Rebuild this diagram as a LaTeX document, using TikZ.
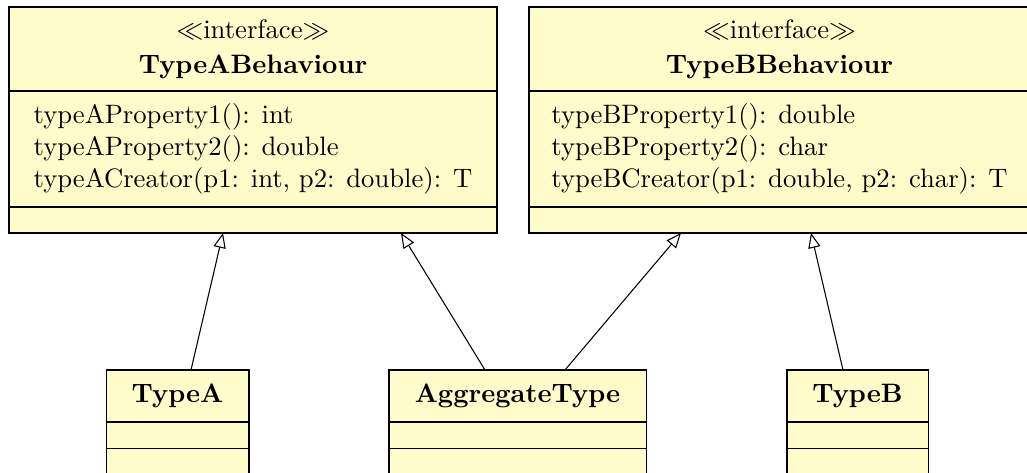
\documentclass[tikz,border=0pt]{standalone}
\usepackage{amsmath, amssymb}
\usepackage{xcolor}
\usetikzlibrary{positioning,arrows.meta}

\tikzset{
  part/.style={draw,fill=yellow!20,outer sep=0pt,inner sep=0pt},
  members/.style={part,align=left},
  realize/.style={-{Triangle[open,length=5.6pt,width=4.6pt]}}
}

\begin{document}
\begin{tikzpicture}[x=0.375pt,y=-0.375pt]
\path[use as bounding box,clip] (0,0) rectangle (1027,473);
\node[part,anchor=north,minimum width=183pt,minimum height=31.5pt,align=center] (tab) at (253,7) {$\ll$interface$\gg$\\[1pt]\textbf{TypeABehaviour}};
\node[members,below=0pt of tab,minimum width=183pt,minimum height=43.5pt] (tabattr) {typeAProperty1(): int\\ typeAProperty2(): double\\ typeACreator(p1: int, p2: double): T};
\node[part,below=0pt of tabattr,minimum width=183pt,minimum height=9.75pt] (tabops) {};
\node[part,anchor=north,minimum width=187.9pt,minimum height=31.5pt,align=center] (tbb) at (779.5,7) {$\ll$interface$\gg$\\[1pt]\textbf{TypeBBehaviour}};
\node[members,below=0pt of tbb,minimum width=187.9pt,minimum height=43.5pt] (tbbattr) {typeBProperty1(): double\\ typeBProperty2(): char\\ typeBCreator(p1: double, p2: char): T};
\node[part,below=0pt of tbbattr,minimum width=187.9pt,minimum height=9.75pt] (tbbops) {};
\node[part,anchor=north,minimum width=53.6pt,minimum height=19.5pt,font=\bfseries] (ta) at (177.5,370) {TypeA};
\node[part,below=0pt of ta,minimum width=53.6pt,minimum height=10.1pt] (taattr) {};
\node[part,below=0pt of taattr,minimum width=53.6pt,minimum height=10.1pt] (taops) {};
\node[part,anchor=north,minimum width=96.4pt,minimum height=19.5pt,font=\bfseries] (agg) at (517.5,370) {AggregateType};
\node[part,below=0pt of agg,minimum width=96.4pt,minimum height=10.1pt] (aggattr) {};
\node[part,below=0pt of aggattr,minimum width=96.4pt,minimum height=10.1pt] (aggops) {};
\node[part,anchor=north,minimum width=52.9pt,minimum height=19.5pt,font=\bfseries] (tb) at (857.5,370) {TypeB};
\node[part,below=0pt of tb,minimum width=52.9pt,minimum height=10.1pt] (tbattr) {};
\node[part,below=0pt of tbattr,minimum width=52.9pt,minimum height=10.1pt] (tbops) {};
\draw[realize] ([xshift=5.06pt]ta.north) -- ([xshift=-11.25pt]tabops.south);
\draw[realize] ([xshift=-12.19pt]agg.north) -- ([xshift=55.5pt]tabops.south);
\draw[realize] ([xshift=17.81pt]agg.north) -- ([xshift=-36.94pt]tbbops.south);
\draw[realize] ([xshift=-5.44pt]tb.north) -- ([xshift=11.81pt]tbbops.south);
\end{tikzpicture}
\end{document}
